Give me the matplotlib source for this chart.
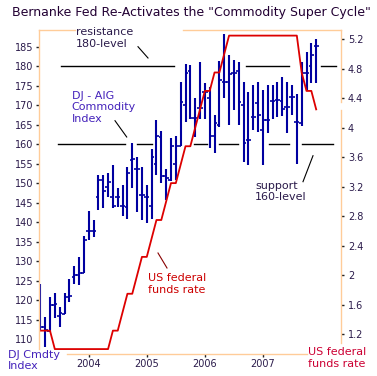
import numpy as np
import pandas as pd
import matplotlib
matplotlib.use('Agg')
import matplotlib.pyplot as plt
from matplotlib.lines import Line2D

# monthly DJ-AIG commodity index bars, Mar 2003 .. Dec 2007
months = pd.date_range('2003-03-01', '2007-12-01', freq='MS')
dj_open = [122.0, 113.1, 112.2, 118.8, 116.0, 116.6, 121.0, 126.0, 126.5, 127.0,
           137.8, 137.8, 146.4, 150.8, 149.0, 146.4, 146.6, 144.2, 144.0, 156.0,
           153.6, 147.0, 146.4, 144.2, 155.0, 162.0, 152.0, 150.8, 155.0, 159.6,
           170.0, 178.7, 166.7, 169.2, 173.5, 172.0, 162.1, 165.0, 176.1, 176.0,
           178.4, 178.7, 170.0, 161.1, 167.1, 170.5, 163.7, 166.2, 171.2, 171.4,
           171.0, 169.5, 172.2, 165.8, 165.4, 178.4, 180.0, 185.2]
dj_high = [124.2, 115.8, 120.8, 121.8, 118.4, 121.8, 125.4, 128.8, 131.2, 136.5,
           142.9, 140.6, 152.1, 152.1, 152.6, 154.7, 148.7, 149.6, 154.1, 160.4,
           156.8, 154.3, 149.6, 158.7, 166.2, 163.5, 153.8, 161.7, 162.1, 176.1,
           180.5, 180.3, 171.9, 181.0, 175.8, 174.8, 167.5, 181.4, 188.3, 182.9,
           181.6, 181.2, 176.1, 173.5, 175.3, 176.0, 173.9, 175.2, 175.2, 176.1,
           177.2, 176.1, 175.2, 173.0, 181.0, 183.7, 186.0, 186.9]
dj_low = [112.4, 108.1, 112.0, 115.4, 113.1, 116.5, 119.5, 124.1, 124.0, 127.0,
          135.6, 136.2, 143.2, 143.6, 146.6, 143.6, 144.0, 141.6, 140.8, 148.7,
          142.7, 140.6, 139.9, 140.8, 152.1, 150.0, 145.7, 150.7, 150.8, 159.6,
          165.6, 166.4, 162.0, 166.4, 166.4, 159.0, 157.9, 164.4, 171.8, 165.0,
          168.8, 165.0, 155.6, 154.7, 163.7, 163.2, 154.7, 163.0, 166.4, 167.1,
          167.3, 163.0, 167.6, 155.0, 164.8, 173.9, 175.6, 175.6]
dj_close = [113.2, 112.4, 118.8, 119.0, 116.7, 121.0, 121.1, 126.5, 127.0, 135.5,
            137.8, 137.8, 150.8, 148.0, 150.4, 144.2, 146.6, 144.2, 152.6, 156.2,
            153.6, 147.0, 146.6, 156.8, 162.1, 152.0, 151.5, 159.6, 159.6, 170.9,
            178.4, 166.7, 166.7, 169.2, 173.5, 162.1, 165.4, 176.5, 176.1, 178.0,
            178.4, 170.9, 160.3, 161.1, 167.1, 167.5, 166.2, 166.2, 171.2, 171.4,
            169.0, 169.5, 172.2, 165.8, 178.3, 178.4, 183.0, 185.2]

# US federal funds target rate at month end
fed_rate = [1.25, 1.25, 1.25, 1.00, 1.00, 1.00, 1.00, 1.00, 1.00, 1.00,
            1.00, 1.00, 1.00, 1.00, 1.00, 1.25, 1.25, 1.50, 1.75, 1.75,
            2.00, 2.25, 2.25, 2.50, 2.75, 2.75, 3.00, 3.25, 3.25, 3.50,
            3.75, 3.75, 4.00, 4.25, 4.50, 4.50, 4.75, 4.75, 5.00, 5.25,
            5.25, 5.25, 5.25, 5.25, 5.25, 5.25, 5.25, 5.25, 5.25, 5.25,
            5.25, 5.25, 5.25, 5.25, 4.75, 4.50, 4.50, 4.25]

year_labels = ['2004', '2005', '2006', '2007']
left_ticks = list(range(110, 190, 5))
right_ticks = [1.2, 1.6, 2.0, 2.4, 2.8, 3.2, 3.6, 4.0, 4.4, 4.8, 5.2]
right_labels = ['1.2', '1.6', '2', '2.4', '2.8', '3.2', '3.6', '4', '4.4', '4.8', '5.2']

W, H = 377, 376
def fx(px):
    return px / W
def fy(py):
    return 1 - py / H

orange = '#FFCC99'
navy = '#0000A0'
red = '#DD0000'
txtc = '#2a1a4a'
purple = '#4422BB'

fig = plt.figure(figsize=(W / 100, H / 100), dpi=100)
fig.patch.set_facecolor('white')
ax = fig.add_axes([fx(38.5), fy(353.5), (341 - 38.5) / W, (353.5 - 30) / H])
ax2 = ax.twinx()

x = np.arange(len(months))
px_per_month = 4.84
x0 = 40.3
def xi(px):
    return (px - x0) / px_per_month

ax.set_xlim(xi(38.5), xi(341))
ax.set_ylim(106.4, 189.3)
ax2.set_ylim(0.94, 5.326)

# OHLC bars
ax.vlines(x, dj_low, dj_high, color=navy, lw=1.5, zorder=3)
ax.hlines(dj_open, x - 0.55, x, color=navy, lw=1.2, zorder=3)
ax.hlines(dj_close, x, x + 0.55, color=navy, lw=1.2, zorder=3)

# resistance / support lines (broken)
for a, b in [(61, 174), (246, 289), (321, 336)]:
    ax.plot([xi(a), xi(b)], [180, 180], color='black', lw=1, zorder=2)
for a, b in [(58, 125), (137, 152), (194, 207), (219, 238), (269, 289), (302, 333)]:
    ax.plot([xi(a), xi(b)], [160, 160], color='black', lw=1, zorder=2)

# fed funds
ax2.plot(x, fed_rate, color=red, lw=1.3, zorder=4)

# ticks
jan_idx = [i for i, d in enumerate(months) if d.month == 1]
ax.set_xticks(jan_idx)
ax.set_xticklabels(year_labels)
ax.set_yticks(left_ticks)
ax.tick_params(axis='y', direction='out', length=2.5, width=1, color='#222222',
               labelsize=7, pad=1.2, labelcolor=txtc)
ax.tick_params(axis='x', direction='out', length=2, width=1, color='#222222',
               labelsize=7, pad=2, labelcolor=txtc)
ax.yaxis.get_major_ticks()[0].tick1line.set_visible(False)
ax2.set_yticks(right_ticks)
ax2.set_yticklabels(right_labels)
ax2.tick_params(axis='y', direction='out', length=2.2, width=1, color='#222222',
                labelsize=7, pad=2.8, labelcolor=txtc)
for a in (ax, ax2):
    for s in a.spines.values():
        s.set_visible(False)

# frame drawn in pieces
def seg(x1, y1, x2, y2, **kw):
    fig.add_artist(Line2D([fx(x1), fx(x2)], [fy(y1), fy(y2)],
                          transform=fig.transFigure, **kw))
for a, b in [(38.5, 75), (183, 341)]:
    seg(a, 30, b, 30, color=orange, lw=1)
seg(38.5, 30, 38.5, 349, color=orange, lw=1)
seg(67, 353.5, 306.7, 353.5, color=orange, lw=1)
seg(341, 30, 341, 102, color=orange, lw=1)
seg(341, 110, 341, 343, color=orange, lw=1)

# pointers
seg(138, 46.7, 148, 58, color='black', lw=0.8)
seg(115, 120.7, 126.7, 137, color='black', lw=0.8)
seg(313, 155.7, 303, 181.7, color='black', lw=0.8)
seg(158, 253, 167, 268, color='#880000', lw=0.8)

# texts
fig.text(fx(191), fy(12.5), 'Bernanke Fed Re-Activates the "Commodity Super Cycle"',
         ha='center', va='center', fontsize=9.0, color='#220033')
fig.text(fx(76), fy(38), 'resistance\n180-level', ha='left', va='center',
         fontsize=8, color=txtc, linespacing=1.15)
fig.text(fx(71.5), fy(107.5), 'DJ - AIG\nCommodity\nIndex', ha='left', va='center',
         fontsize=8, color=purple, linespacing=1.15)
fig.text(fx(255), fy(191.5), 'support\n160-level', ha='left', va='center',
         fontsize=8, color=txtc, linespacing=1.15)
fig.text(fx(148), fy(284), 'US federal\nfunds rate', ha='left', va='center',
         fontsize=8, color='#CC0000', linespacing=1.15)
fig.text(fx(8), fy(360.5), 'DJ Cmdty\nIndex', ha='left', va='center',
         fontsize=8, color=purple, linespacing=1.15)
fig.text(fx(308), fy(358), 'US federal\nfunds rate', ha='left', va='center',
         fontsize=8, color='#CC0033', linespacing=1.15)

fig.savefig('out.png', dpi=100, facecolor='white')
